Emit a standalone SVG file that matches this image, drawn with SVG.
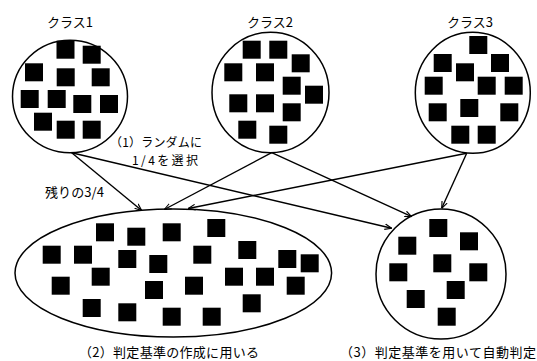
<svg xmlns="http://www.w3.org/2000/svg" width="537" height="361" viewBox="0 0 537 361">
<style>
.shape{fill:#fff;stroke:#000;stroke-width:1.5}
.sq{fill:#000}
.edge{fill:none;stroke:#000;stroke-width:1.4;marker-end:url(#arr)}
text{font-family:"Noto Sans CJK JP","Noto Sans",sans-serif;font-size:13px;fill:#000}
.sm{font-size:12px}
</style>
<defs>
<marker id="arr" viewBox="0 0 10 10" refX="10" refY="5" markerWidth="7" markerHeight="7" markerUnits="userSpaceOnUse" orient="auto">
<path d="M0,1 L10,5 L0,9" fill="none" stroke="#000" stroke-width="1.6"/>
</marker>
<rect id="s" width="18" height="18" class="sq"/>
</defs>
<rect width="537" height="361" fill="#fff"/>

<g id="class1">
<text x="70" y="27" text-anchor="middle">クラス1</text>
<ellipse class="shape" cx="70" cy="96.5" rx="57.5" ry="56.3"/>
<use href="#s" x="56.5" y="40.7"/>
<use href="#s" x="82.7" y="45.7"/>
<use href="#s" x="25" y="63.3"/>
<use href="#s" x="56.7" y="68.3"/>
<use href="#s" x="91.7" y="68.3"/>
<use href="#s" x="20.7" y="90"/>
<use href="#s" x="47.7" y="90"/>
<use href="#s" x="73.3" y="95"/>
<use href="#s" x="100" y="95"/>
<use href="#s" x="34" y="112.7"/>
<use href="#s" x="56.7" y="120.7"/>
<use href="#s" x="82.7" y="120.7"/>
</g>

<g id="class2">
<text x="270" y="27" text-anchor="middle">クラス2</text>
<ellipse class="shape" cx="270.5" cy="92.5" rx="58.5" ry="60.2"/>
<use href="#s" x="242.7" y="40.7"/>
<use href="#s" x="269.3" y="40.7"/>
<use href="#s" x="291.7" y="54.3"/>
<use href="#s" x="224.3" y="63.3"/>
<use href="#s" x="256" y="63.3"/>
<use href="#s" x="282.7" y="76.7"/>
<use href="#s" x="305" y="85.7"/>
<use href="#s" x="229.3" y="94.3"/>
<use href="#s" x="256" y="94.3"/>
<use href="#s" x="282.7" y="103.3"/>
<use href="#s" x="238.3" y="120.7"/>
<use href="#s" x="269.3" y="125.7"/>
</g>

<g id="class3">
<text x="470" y="27" text-anchor="middle">クラス3</text>
<ellipse class="shape" cx="472.8" cy="92.8" rx="57.5" ry="60.5"/>
<use href="#s" x="469.3" y="36"/>
<use href="#s" x="433.7" y="54"/>
<use href="#s" x="491" y="54"/>
<use href="#s" x="456" y="63.3"/>
<use href="#s" x="424.7" y="76.7"/>
<use href="#s" x="477.7" y="76.7"/>
<use href="#s" x="504.7" y="76.7"/>
<use href="#s" x="428.7" y="103.3"/>
<use href="#s" x="460.3" y="99"/>
<use href="#s" x="500.3" y="103.3"/>
<use href="#s" x="451.3" y="125.7"/>
<use href="#s" x="477.7" y="125.7"/>
</g>

<g id="training">
<ellipse class="shape" cx="173.3" cy="273" rx="158.3" ry="64"/>
<use href="#s" x="96" y="223.3"/>
<use href="#s" x="127.3" y="227.7"/>
<use href="#s" x="162.7" y="223.3"/>
<use href="#s" x="207.3" y="219"/>
<use href="#s" x="42.7" y="245.7"/>
<use href="#s" x="74" y="245.7"/>
<use href="#s" x="118.3" y="250"/>
<use href="#s" x="149.3" y="255"/>
<use href="#s" x="193.3" y="245.7"/>
<use href="#s" x="238.3" y="241"/>
<use href="#s" x="278.3" y="250"/>
<use href="#s" x="300.7" y="254.3"/>
<use href="#s" x="51.7" y="276.7"/>
<use href="#s" x="91.7" y="267.7"/>
<use href="#s" x="145" y="281"/>
<use href="#s" x="185" y="276.7"/>
<use href="#s" x="225" y="267.7"/>
<use href="#s" x="256" y="267.7"/>
<use href="#s" x="286.7" y="276.7"/>
<use href="#s" x="82.7" y="299"/>
<use href="#s" x="118.3" y="303.3"/>
<use href="#s" x="162.7" y="307.7"/>
<use href="#s" x="202.7" y="307.7"/>
<use href="#s" x="242.7" y="294.3"/>
<text x="79" y="356.5" textLength="180">（2）判定基準の作成に用いる</text>
</g>

<g id="test">
<circle class="shape" cx="441" cy="274" r="65"/>
<use href="#s" x="429.3" y="219"/>
<use href="#s" x="398.3" y="236.7"/>
<use href="#s" x="460" y="232.3"/>
<use href="#s" x="389.3" y="263.3"/>
<use href="#s" x="433.3" y="254.3"/>
<use href="#s" x="469.3" y="263.3"/>
<use href="#s" x="446.7" y="281"/>
<use href="#s" x="406.7" y="290"/>
<use href="#s" x="437.7" y="307.7"/>
<text x="340" y="356.5" textLength="196">（3）判定基準を用いて自動判定</text>
</g>

<g id="connectors">
<line class="edge" x1="71.7" y1="152.7" x2="141.7" y2="210.5"/>
<line class="edge" x1="71.7" y1="152.7" x2="391.7" y2="228.3"/>
<line class="edge" x1="271.7" y1="152.7" x2="164.3" y2="209.5"/>
<line class="edge" x1="271.7" y1="152.7" x2="411.7" y2="216.7"/>
<line class="edge" x1="466.7" y1="153.3" x2="188.3" y2="208.5"/>
<line class="edge" x1="466.7" y1="153.3" x2="441.7" y2="208.3"/>
</g>

<g id="labels">
<text class="sm" x="110" y="146.5" textLength="92">（1）ランダムに</text>
<text class="sm" x="132" y="165" textLength="66">1/4を選択</text>
<text x="45" y="196.5" textLength="59">残りの3/4</text>
</g>
</svg>
